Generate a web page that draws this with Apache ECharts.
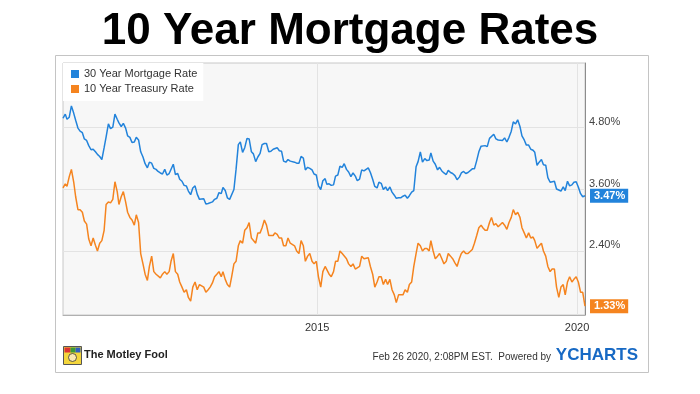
<!DOCTYPE html>
<html><head><meta charset="utf-8">
<script src="https://cdn.jsdelivr.net/npm/echarts@6/dist/echarts.min.js"></script>
<style>html,body{margin:0;padding:0;background:#fff}#c{width:700px;height:394px}</style>
</head><body><div id="c"></div>
<script>
const chartTitle = '10 Year Mortgage Rates';
const seriesNames = ['30 Year Mortgage Rate', '10 Year Treasury Rate'];
const seriesColors = ['#2283db', '#f5841f'];
// two readings per month (around the 10th and the 26th), Feb 2010 .. Feb 2020
const startYear = 2010, startMonth = 2, endYear = 2020, endMonth = 2;
const sampleDays = [10, 26];
const mortgage = [
  // 2010 Feb-Dec
  4.97,5.05, 4.95,4.99, 5.21,5.07, 4.93,4.78, 4.72,4.69, 4.57,4.54, 4.44,4.36, 4.37,4.32, 4.27,4.23, 4.17,4.40, 4.61,4.86,
  // 2011
  4.77,4.80, 5.05,4.95, 4.88,4.81, 4.87,4.78, 4.63,4.60, 4.50,4.51, 4.60,4.55, 4.32,4.22, 4.09,4.01, 4.12,4.10, 4.00,3.98, 3.94,3.91,
  // 2012
  3.89,3.98, 3.87,3.90, 3.92,4.08, 3.88,3.90, 3.79,3.75, 3.67,3.66, 3.56,3.49, 3.62,3.66, 3.50,3.40, 3.39,3.41, 3.31,3.32, 3.34,3.35,
  // 2013
  3.40,3.42, 3.53,3.51, 3.63,3.57, 3.43,3.40, 3.42,3.59, 3.98,4.46, 4.51,4.31, 4.40,4.58, 4.57,4.32, 4.28,4.13, 4.22,4.29, 4.46,4.48,
  // 2014
  4.48,4.32, 4.33,4.37, 4.37,4.40, 4.34,4.33, 4.14,4.12, 4.17,4.14, 4.15,4.12, 4.10,4.10, 4.23,4.20, 3.97,4.02, 4.00,3.97, 3.89,3.87,
  // 2015
  3.66,3.59, 3.76,3.80, 3.69,3.70, 3.67,3.68, 3.85,3.87, 4.04,4.02, 4.09,3.98, 3.93,3.84, 3.91,3.85, 3.76,3.79, 3.97,3.95, 3.95,4.01,
  // 2016
  3.92,3.79, 3.65,3.62, 3.73,3.71, 3.59,3.64, 3.57,3.64, 3.54,3.48, 3.42,3.43, 3.43,3.46, 3.48,3.42, 3.47,3.54, 3.57,4.03, 4.13,4.32,
  // 2017
  4.12,4.19, 4.15,4.16, 4.30,4.14, 4.08,3.97, 4.02,3.95, 3.91,3.88, 3.96,3.92, 3.90,3.86, 3.78,3.83, 3.91,3.94, 3.90,3.92, 3.94,3.99,
  // 2018
  3.99,4.15, 4.32,4.43, 4.46,4.44, 4.42,4.58, 4.61,4.66, 4.57,4.55, 4.53,4.54, 4.59,4.51, 4.60,4.72, 4.90,4.86, 4.94,4.81, 4.63,4.55,
  // 2019
  4.45,4.45, 4.37,4.35, 4.31,4.06, 4.12,4.17, 4.07,4.06, 3.82,3.73, 3.75,3.75, 3.60,3.58, 3.56,3.64, 3.57,3.75, 3.66,3.68, 3.73,3.74,
  // 2020 Jan-Feb
  3.64,3.51, 3.45,3.47
];
const treasury = [
  // 2010 Feb-Dec
  3.62,3.70, 3.65,3.84, 3.98,3.74, 3.45,3.20, 3.20,3.15, 2.98,2.92, 2.63,2.50, 2.65,2.51, 2.40,2.55, 2.60,2.80, 3.30,3.35,
  // 2011
  3.33,3.40, 3.74,3.55, 3.30,3.45, 3.55,3.35, 3.15,3.05, 3.00,2.90, 3.10,2.95, 2.35,2.15, 1.95,1.83, 2.10,2.30, 2.00,1.95, 1.95,1.88,
  // 2012
  1.95,2.00, 1.95,2.00, 2.20,2.35, 2.00,1.95, 1.80,1.70, 1.60,1.65, 1.50,1.43, 1.70,1.80, 1.65,1.75, 1.75,1.70, 1.60,1.65, 1.70,1.78,
  // 2013
  1.90,1.95, 2.00,1.90, 2.00,1.85, 1.75,1.70, 1.90,2.15, 2.20,2.50, 2.60,2.55, 2.80,2.85, 2.95,2.65, 2.65,2.55, 2.75,2.75, 2.85,3.00,
  // 2014
  2.90,2.70, 2.70,2.70, 2.75,2.72, 2.65,2.65, 2.50,2.50, 2.65,2.55, 2.55,2.50, 2.40,2.35, 2.60,2.50, 2.20,2.30, 2.35,2.20, 2.15,2.20,
  // 2015
  1.90,1.70, 2.00,2.10, 2.10,1.95, 1.90,2.00, 2.20,2.20, 2.40,2.35, 2.35,2.25, 2.15,2.10, 2.15,2.05, 2.05,2.10, 2.30,2.25, 2.25,2.27,
  // 2016
  2.10,1.95, 1.70,1.80, 1.90,1.90, 1.75,1.85, 1.75,1.85, 1.65,1.55, 1.40,1.55, 1.55,1.55, 1.65,1.60, 1.75,1.80, 2.10,2.35, 2.55,2.50,
  // 2017
  2.40,2.45, 2.45,2.40, 2.60,2.40, 2.25,2.30, 2.35,2.25, 2.15,2.20, 2.35,2.30, 2.25,2.17, 2.10,2.25, 2.35,2.40, 2.35,2.35, 2.38,2.43,
  // 2018
  2.55,2.70, 2.85,2.90, 2.85,2.80, 2.80,2.95, 3.05,2.90, 2.93,2.87, 2.85,2.95, 2.90,2.82, 2.95,3.05, 3.20,3.10, 3.15,3.05, 2.85,2.75,
  // 2019
  2.65,2.75, 2.65,2.67, 2.60,2.45, 2.50,2.55, 2.40,2.30, 2.10,2.00, 2.05,2.05, 1.70,1.50, 1.70,1.75, 1.55,1.80, 1.90,1.80, 1.85,1.90,
  // 2020 Jan-Feb
  1.80,1.60, 1.60,1.33
];
const yTicks = [2.4, 3.6, 4.8];
const xTickYears = [2015, 2020];
const yMin = 1.16, yMax = 6.04;

const dates = [];
for (let y = startYear, m = startMonth; y < endYear || (y === endYear && m <= endMonth);) {
  sampleDays.forEach(d => dates.push(Date.UTC(y, m - 1, d)));
  m++; if (m > 12) { m = 1; y++; }
}
const xTicks = xTickYears.map(y => Date.UTC(y, 0, 1));
const pairs = vals => vals.map((v, i) => [dates[i], v]);

const FONT = 'Liberation Sans, Arial, sans-serif';
const chart = echarts.init(document.getElementById('c'));
chart.setOption({
  animation: false,
  backgroundColor: '#fff',
  textStyle: { fontFamily: FONT },
  title: [
    { text: chartTitle, left: 'center', top: 10, padding: 0,
      textStyle: { fontSize: 44, fontWeight: 'bold', color: '#000', fontFamily: FONT } },
    { text: 'The Motley Fool', left: 84, top: 349, padding: 0,
      textStyle: { fontSize: 11, fontWeight: 'bold', color: '#222', fontFamily: 'Liberation Sans Narrow, Liberation Sans, Arial' } },
    { text: '{a|Feb 26 2020, 2:08PM EST.  Powered by }{b|YCHARTS}', right: 62, top: 347, padding: 0,
      textStyle: { fontWeight: 'normal', rich: {
        a: { fontSize: 10, fontWeight: 'normal', color: '#333', fontFamily: FONT, padding: [4, 2, 0, 0] },
        b: { fontSize: 17, fontWeight: 'bold', color: '#1769c4', fontFamily: FONT }
      } } }
  ],
  graphic: [
    { type: 'rect', shape: { x: 55.5, y: 55.5, width: 593, height: 317 }, style: { fill: 'none', stroke: '#c4c4c4', lineWidth: 1 }, silent: true, z: -10 },
    { type: 'group', left: 63, top: 346, children: [
      { type: 'rect', shape: { x: 0, y: 0, width: 18, height: 18 }, style: { fill: '#f4d63c', stroke: '#555', lineWidth: 1 } },
      { type: 'rect', shape: { x: 1, y: 1, width: 6, height: 5 }, style: { fill: '#d33' } },
      { type: 'rect', shape: { x: 7, y: 1, width: 5, height: 5 }, style: { fill: '#3a9a3a' } },
      { type: 'rect', shape: { x: 12, y: 1, width: 5, height: 5 }, style: { fill: '#2f5fbf' } },
      { type: 'circle', shape: { cx: 9, cy: 11, r: 4 }, style: { fill: '#fbe9b0', stroke: '#333', lineWidth: 0.8 } }
    ] }
  ],
  legend: {
    orient: 'vertical', left: 63, top: 63,
    padding: [5, 6, 6, 8], itemGap: 3,
    backgroundColor: '#fff',
    icon: 'rect', itemWidth: 8, itemHeight: 8,
    textStyle: { fontSize: 11, color: '#333', lineHeight: 12, fontFamily: FONT },
    data: seriesNames
  },
  grid: { left: 63, right: 115, top: 63, bottom: 79, show: true, backgroundColor: '#f7f7f7', borderColor: '#c8c8c8', borderWidth: 1, containLabel: false },
  xAxis: {
    type: 'value', min: dates[0], max: dates[dates.length - 1],
    axisLine: { show: true, lineStyle: { color: '#b0b0b0' } },
    axisTick: { show: false, customValues: xTicks },
    splitLine: { show: true, lineStyle: { color: '#e3e3e3', width: 1 } },
    axisLabel: { customValues: xTicks, fontSize: 11, color: '#333', margin: 7,
      formatter: v => String(new Date(v).getUTCFullYear()) }
  },
  yAxis: {
    type: 'value', position: 'right', min: yMin, max: yMax,
    axisLine: { show: true, lineStyle: { color: '#8c8c8c' } },
    axisTick: { show: false, customValues: yTicks },
    splitLine: { show: true, lineStyle: { color: '#e3e3e3', width: 1 } },
    axisLabel: { customValues: yTicks, fontSize: 11, color: '#444', margin: 4, verticalAlign: 'bottom',
      formatter: v => v.toFixed(2) + '%' }
  },
  series: [
    { name: seriesNames[0], type: 'line', data: pairs(mortgage), showSymbol: false, symbol: 'none',
      lineStyle: { color: seriesColors[0], width: 1.5 }, itemStyle: { color: seriesColors[0] },
      endLabel: { show: true, formatter: p => p.value[1].toFixed(2) + '%', color: '#fff', fontWeight: 'bold', fontSize: 11,
        backgroundColor: seriesColors[0], padding: [2, 3, 1, 4], distance: 5, fontFamily: FONT } },
    { name: seriesNames[1], type: 'line', data: pairs(treasury), showSymbol: false, symbol: 'none',
      lineStyle: { color: seriesColors[1], width: 1.5 }, itemStyle: { color: seriesColors[1] },
      endLabel: { show: true, formatter: p => p.value[1].toFixed(2) + '%', color: '#fff', fontWeight: 'bold', fontSize: 11,
        backgroundColor: seriesColors[1], padding: [2, 3, 1, 4], distance: 5, fontFamily: FONT } }
  ]
});
</script></body></html>
